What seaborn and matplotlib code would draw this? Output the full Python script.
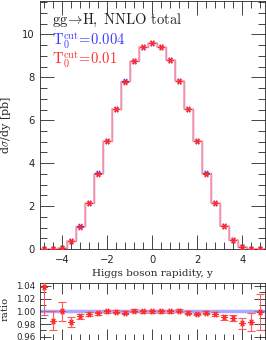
import numpy as np
import pandas as pd
import matplotlib
matplotlib.use("Agg")
import matplotlib.pyplot as plt
import seaborn as sns
from matplotlib.ticker import MultipleLocator

# --- data ---
y_centers = [-4.8, -4.4, -4.0, -3.6, -3.2, -2.8, -2.4, -2.0, -1.6, -1.2, -0.8, -0.4,
             0.0, 0.4, 0.8, 1.2, 1.6, 2.0, 2.4, 2.8, 3.2, 3.6, 4.0, 4.4, 4.8]
xs_004 = [0.01, 0.01, 0.05, 0.38, 1.05, 2.14, 3.52, 5.04, 6.54, 7.82, 8.77, 9.41,
          9.60, 9.41, 8.81, 7.82, 6.53, 5.05, 3.52, 2.14, 1.07, 0.42, 0.08, 0.01, 0.01]
ratio = [1.038, 0.985, 1.000, 0.983, 0.992, 0.996, 0.997, 1.000, 0.9995, 0.998, 1.001, 1.000,
         1.000, 1.000, 1.000, 1.001, 0.998, 0.996, 0.998, 0.996, 0.991, 0.990, 0.981, 0.983, 0.999]
ratio_err = [0.043, 0.015, 0.015, 0.008, 0.004, 0.003, 0.002, 0.002, 0.002, 0.002, 0.002, 0.002,
             0.002, 0.002, 0.002, 0.002, 0.002, 0.002, 0.002, 0.003, 0.004, 0.005, 0.008, 0.014, 0.029]
bin_width = 0.4

xs_001 = [a * r for a, r in zip(xs_004, ratio)]

df = pd.DataFrame({"y": y_centers, "t004": xs_004, "t001": xs_001,
                   "ratio": ratio, "err": ratio_err})

# step outlines over the full bin range
edges = [c - bin_width / 2 for c in y_centers] + [y_centers[-1] + bin_width / 2]
steps = pd.DataFrame({"edge": edges,
                      "t004": xs_004 + [xs_004[-1]],
                      "t001": xs_001 + [xs_001[-1]]})

sns.set_style("ticks")
plt.rcParams["font.family"] = ["DejaVu Sans"]
plt.rcParams["mathtext.fontset"] = "cm"
plt.rcParams["xtick.direction"] = "in"
plt.rcParams["ytick.direction"] = "in"

RED = "#ff2a2a"
BLUE = "#3a3aff"
star = (6, 2, 90)

fig = plt.figure(figsize=(2.66, 3.40), dpi=100)
ax = fig.add_axes([0.150, 0.2676, 0.846, 0.729])
axr = fig.add_axes([0.150, 0.0, 0.846, 0.1685])

# main panel
sns.lineplot(data=steps, x="edge", y="t004", ax=ax, drawstyle="steps-post",
             color="#b070c0", lw=1.0, sort=False)
sns.lineplot(data=steps, x="edge", y="t001", ax=ax, drawstyle="steps-post",
             color="#ff9aa8", lw=1.3, alpha=0.85, sort=False)
sns.scatterplot(data=df, x="y", y="t004", ax=ax, marker=star, s=14,
                color=BLUE, edgecolor=BLUE, linewidth=0.8, zorder=4)
sns.scatterplot(data=df, x="y", y="t001", ax=ax, marker=star, s=14,
                color=RED, edgecolor=RED, linewidth=0.9, zorder=5)

ax.set_xlim(-5, 5)
ax.set_ylim(0, 11.55)
ax.xaxis.set_major_locator(MultipleLocator(2))
ax.xaxis.set_minor_locator(MultipleLocator(0.4))
ax.yaxis.set_major_locator(MultipleLocator(2))
ax.yaxis.set_minor_locator(MultipleLocator(0.5))
ax.tick_params(which="both", top=True, right=True, labelsize=7.2, width=0.6)
ax.tick_params(which="major", length=10, pad=4)
ax.tick_params(which="minor", length=5)
ax.set_xlabel("Higgs boson rapidity, y", family="DejaVu Serif", fontsize=7.5, labelpad=3)
ax.set_ylabel(r"d$\sigma$/dy [pb]", family="DejaVu Serif", fontsize=8, labelpad=6)
for s in ax.spines.values():
    s.set_linewidth(0.6)

ax.text(0.055, 0.955, r"$\mathrm{gg\!\rightarrow\!H,\ NNLO\ total}$", transform=ax.transAxes,
        fontsize=10.5, va="top", ha="left", color="#222222")
ax.text(0.055, 0.882, r"$\mathrm{T_0^{cut}\!=\!0.004}$", transform=ax.transAxes,
        fontsize=10.5, va="top", ha="left", color=BLUE)
ax.text(0.055, 0.807, r"$\mathrm{T_0^{cut}\!=\!0.01}$", transform=ax.transAxes,
        fontsize=10.5, va="top", ha="left", color=RED)

# ratio panel
axr.axhline(1.0, color="#8c8cff", lw=2.5, alpha=0.75, zorder=1)
axr.errorbar(df["y"], df["ratio"], yerr=df["err"], fmt="none", ecolor="#ff5a5a",
             elinewidth=0.8, capsize=3, capthick=0.8, zorder=3)
sns.scatterplot(data=df, x="y", y="ratio", ax=axr, marker=star, s=14,
                color=RED, edgecolor=RED, linewidth=0.9, zorder=4)
axr.set_xlim(-5, 5)
axr.set_ylim(0.955, 1.045)
axr.xaxis.set_major_locator(MultipleLocator(2))
axr.xaxis.set_minor_locator(MultipleLocator(0.4))
axr.yaxis.set_major_locator(MultipleLocator(0.02))
axr.yaxis.set_minor_locator(MultipleLocator(0.01))
axr.yaxis.set_major_formatter(matplotlib.ticker.FormatStrFormatter("%.2f"))
axr.tick_params(which="both", top=True, right=True, labelsize=6.3, width=0.6,
                labelbottom=False)
axr.tick_params(which="major", length=8, pad=3)
axr.tick_params(which="minor", length=4)
axr.set_xlabel("")
axr.set_ylabel("ratio", family="DejaVu Serif", fontsize=7.2)
axr.yaxis.set_label_coords(-0.135, 0.55)
for s in axr.spines.values():
    s.set_linewidth(0.6)

fig.savefig("out.png", dpi=100)
